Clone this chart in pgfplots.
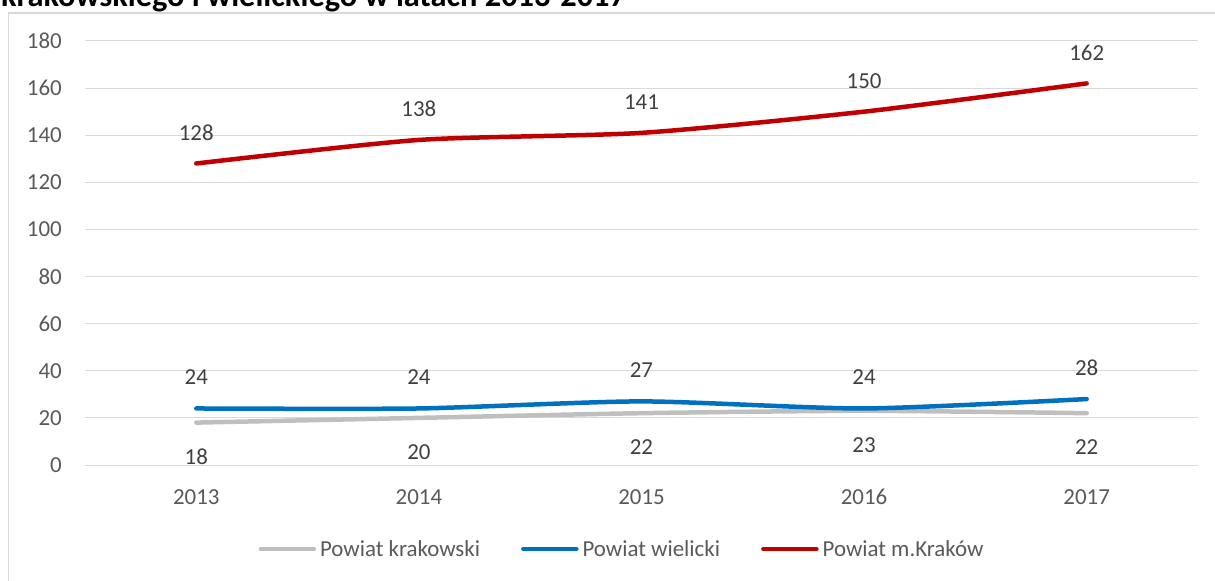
\documentclass[border=0pt]{standalone}
\usepackage{pgfplots}
\pgfplotsset{compat=1.18}
\usepackage{fontspec}
\setmainfont{Carlito}
\definecolor{cgray}{HTML}{BFBFBF}
\definecolor{cblue}{HTML}{0070C0}
\definecolor{cred}{HTML}{C00000}
\definecolor{gridc}{HTML}{D9D9D9}
\definecolor{ticktext}{HTML}{595959}
\definecolor{labtext}{HTML}{404040}
\begin{document}
\begin{tikzpicture}
\useasboundingbox (0,0) rectangle (1215bp,581bp);
\draw[gridc, line width=1.5bp] (8.5bp,-20bp) -- (8.5bp,568bp) -- (1300bp,568bp);
\node[anchor=base west, font=\bfseries\fontsize{32.5}{36}\selectfont, inner sep=0pt] at (1bp,574bp) {krakowskiego i wielickiego w latach 2013-2017};
\begin{axis}[
  at={(85bp,116bp)}, anchor=south west,
  scale only axis, width=1113bp, height=424bp,
  xmin=2012.5, xmax=2017.5, ymin=0, ymax=180,
  xtick={2013,2014,2015,2016,2017},
  ytick={0,20,...,180},
  /pgf/number format/1000 sep={},
  /pgf/number format/assume math mode=true,
  ymajorgrids, grid style={gridc, line width=1bp},
  axis line style={draw=none},
  major tick length=0pt,
  tick label style={font=\fontsize{23}{26}\selectfont, text=ticktext, inner sep=0pt},
  xticklabel style={anchor=center, yshift=-32bp},
  yticklabel style={anchor=east, xshift=-23bp},
  clip=false,
  legend style={at={(0.4816,-0.198)}, anchor=center, draw=none, fill=none,
    font=\fontsize{23}{26}\selectfont, text=ticktext,
    nodes={inner xsep=0pt},
    /tikz/every odd column/.append style={column sep=4bp},
    /tikz/every even column/.append style={column sep=41bp}},
  legend columns=3,
  legend cell align=left,
  legend image code/.code={\draw[#1, line cap=round] (0bp,0bp) -- (53bp,0bp);},
  every axis plot/.append style={line width=4.5bp, line cap=round, line join=round, smooth, tension=0.4},
  nodes near coords,
  every node near coord/.append style={font=\fontsize{23}{26}\selectfont, text=labtext, anchor=center, line width=0pt},
]
\addplot[cgray, no marks, nodes near coords style={yshift=-34bp}] coordinates {(2013,18) (2014,20) (2015,22) (2016,23) (2017,22)};
\addlegendentry{Powiat krakowski}
\addplot[cblue, no marks, nodes near coords style={yshift=31bp}] coordinates {(2013,24) (2014,24) (2015,27) (2016,24) (2017,28)};
\addlegendentry{Powiat wielicki}
\addplot[cred, no marks, nodes near coords style={yshift=31bp}] coordinates {(2013,128) (2014,138) (2015,141) (2016,150) (2017,162)};
\addlegendentry{Powiat m.Kraków}
\end{axis}
\end{tikzpicture}
\end{document}
